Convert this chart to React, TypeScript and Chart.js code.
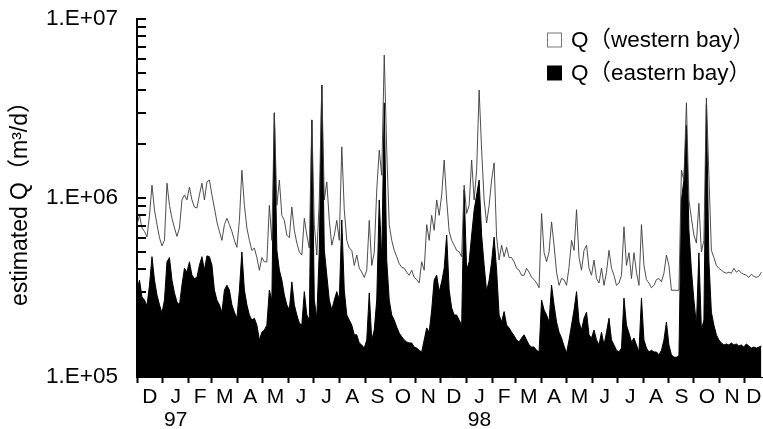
import React, { useEffect, useRef } from 'react';
import { Chart, registerables } from 'chart.js';

Chart.register(...registerables);

// One sample every 3 days, day 0 = 1 Dec 1996. Values in 1000 m3/d.
const STEP_DAYS = 3;

const WEST_K = [
  710, 800, 680, 650, 605, 800, 1180, 860, 710, 600,
  540, 580, 1210, 910, 770, 680, 610, 680, 975, 1040,
  975, 1150, 975, 890, 880, 1040, 1210, 975, 1230, 1260,
  1040, 880, 735, 650, 580, 710, 770, 710, 650, 580,
  530, 750, 1430, 910, 680, 580, 510, 525, 465, 395,
  465, 440, 440, 910, 580, 2990, 910, 1260, 800, 750,
  620, 600, 890, 660, 560, 500, 480, 770, 620, 525,
  2730, 710, 480, 975, 4280, 975, 1230, 750, 545, 620,
  750, 580, 1930, 860, 580, 525, 510, 420, 480, 405,
  385, 360, 395, 750, 420, 495, 1110, 1850, 1340, 6290,
  1850, 710, 580, 510, 470, 430, 410, 405, 385, 370,
  395, 360, 350, 335, 440, 395, 710, 580, 800, 660,
  975, 800, 1040, 1630, 975, 650, 580, 545, 510, 500,
  470, 1180, 820, 910, 1630, 975, 1430, 4010, 1850, 975,
  725, 910, 1260, 1570, 605, 450, 545, 470, 530, 465,
  465, 440, 405, 395, 370, 370, 405, 385, 360, 350,
  335, 315, 820, 495, 440, 500, 735, 545, 385, 325,
  355, 350, 325, 410, 580, 510, 860, 465, 395, 510,
  545, 405, 370, 450, 355, 335, 405, 325, 385, 510,
  405, 370, 325, 335, 370, 690, 420, 495, 355, 495,
  385, 325, 710, 420, 350, 335, 315, 325, 350, 355,
  340, 380, 480, 420, 305, 305, 305, 305, 1430, 1260,
  3400, 975, 770, 620, 560, 935, 500, 580, 3620, 1340,
  510, 465, 420, 405, 395, 385, 380, 385, 380, 405,
  385, 395, 380, 375, 370, 360, 375, 365, 360, 365,
  385,
];

const EAST_K = [
  306, 348, 280, 269, 250, 326, 470, 348, 287, 253,
  228, 269, 440, 465, 348, 295, 262, 253, 326, 405,
  385, 440, 371, 355, 360, 422, 470, 396, 475, 470,
  422, 306, 269, 253, 230, 306, 326, 306, 253, 230,
  213, 306, 500, 306, 253, 222, 208, 213, 195, 161,
  178, 183, 195, 306, 269, 2990, 512, 396, 348, 287,
  253, 237, 340, 253, 222, 200, 195, 300, 222, 208,
  2730, 269, 213, 512, 4280, 512, 371, 269, 237, 269,
  300, 269, 754, 306, 222, 208, 195, 172, 172, 155,
  151, 145, 161, 295, 161, 183, 269, 975, 450, 3400,
  450, 269, 222, 208, 190, 176, 168, 161, 157, 155,
  155, 147, 145, 141, 138, 161, 188, 178, 237, 348,
  371, 300, 340, 405, 621, 306, 243, 222, 222, 208,
  195, 1110, 396, 440, 621, 857, 1040, 1260, 621, 422,
  300, 348, 440, 605, 396, 222, 203, 232, 195, 188,
  178, 170, 161, 157, 165, 172, 161, 151, 147, 147,
  141, 138, 269, 237, 222, 203, 326, 253, 203, 178,
  165, 149, 136, 161, 195, 237, 300, 203, 183, 213,
  230, 172, 165, 183, 161, 151, 178, 151, 178, 213,
  161, 151, 141, 138, 145, 276, 195, 176, 157, 165,
  151, 138, 276, 161, 145, 138, 141, 138, 138, 133,
  141, 161, 203, 151, 133, 129, 129, 131, 975, 1260,
  2550, 663, 396, 269, 195, 494, 183, 208, 3320, 450,
  230, 195, 172, 161, 155, 151, 153, 151, 155, 151,
  153, 149, 151, 147, 153, 149, 145, 147, 145, 147,
  149,
];

const MONTH_LETTERS = ['D', 'J', 'F', 'M', 'A', 'M', 'J', 'J', 'A', 'S', 'O', 'N',
  'D', 'J', 'F', 'M', 'A', 'M', 'J', 'J', 'A', 'S', 'O', 'N', 'D'];
const MONTH_START_DAYS = [0, 31, 62, 90, 121, 151, 182, 212, 243, 274, 304, 335,
  365, 396, 427, 455, 486, 516, 547, 577, 608, 639, 669, 700, 730];
const YEAR_LABELS: Record<number, string> = { 1: '97', 13: '98' };
const LAST_DAY = 752;
const Y_MIN = 1e5;
const Y_MAX = 1e7;
const Y_TICKS = [1e5, 1e6, 1e7];
const SERIES_NAMES = ['Q（western bay）', 'Q（eastern bay）'];
const Y_TITLE = 'estimated Q（m³/d）';

const FONT_FAMILY = '"Liberation Sans", Arial, "Noto Sans CJK JP", sans-serif';

export default function App() {
  const ref = useRef<HTMLCanvasElement | null>(null);

  useEffect(() => {
    const canvas = ref.current;
    if (!canvas) return;

    const west = WEST_K.map((v, i) => ({ x: i * STEP_DAYS, y: v * 1000 }));
    const east = EAST_K.map((v, i) => ({ x: i * STEP_DAYS, y: v * 1000 }));

    const boundaries = new Set<number>(MONTH_START_DAYS);
    const labelMap = new Map<number, string[]>();
    MONTH_START_DAYS.forEach((d, i) => {
      const next = i + 1 < MONTH_START_DAYS.length ? MONTH_START_DAYS[i + 1] : LAST_DAY;
      const mid = (d + next) / 2;
      labelMap.set(mid, YEAR_LABELS[i] ? [MONTH_LETTERS[i], YEAR_LABELS[i]] : [MONTH_LETTERS[i]]);
    });
    const xTickValues = [...MONTH_START_DAYS, ...Array.from(labelMap.keys())].sort((a, b) => a - b);

    const minorTicks = {
      id: 'minorTicks',
      afterDatasetsDraw(chart: any) {
        const ys = chart.scales.y;
        const c = chart.ctx;
        const left = chart.chartArea.left;
        c.save();
        c.strokeStyle = '#000';
        c.lineWidth = 2;
        for (let e = 5; e <= 7; e++) {
          for (let m = 1; m <= 9; m++) {
            const v = m * Math.pow(10, e);
            if (v < Y_MIN || v > Y_MAX) continue;
            const py = Math.round(ys.getPixelForValue(v));
            c.beginPath();
            c.moveTo(left, py);
            c.lineTo(left + 9, py);
            c.stroke();
          }
        }
        c.restore();
      },
    };

    const boxLegend = {
      id: 'boxLegend',
      afterDraw(chart: any) {
        const c = chart.ctx;
        const area = chart.chartArea;
        const bx = area.right - 216;
        const rows = [area.top + 21, area.top + 54];
        c.save();
        c.font = `22.5px ${FONT_FAMILY}`;
        c.textBaseline = 'middle';
        c.textAlign = 'left';
        chart.data.datasets.forEach((ds: any, i: number) => {
          const cy = rows[i];
          if (i === 0) {
            c.fillStyle = '#fff';
            c.fillRect(bx, cy - 7.5, 15, 15);
            c.strokeStyle = '#777';
            c.lineWidth = 1;
            c.strokeRect(bx + 0.5, cy - 7, 14, 14);
          } else {
            c.fillStyle = '#000';
            c.fillRect(bx, cy - 7.5, 15, 15);
          }
          c.fillStyle = '#000';
          c.fillText(ds.label, bx + 24, cy + 1);
        });
        c.restore();
      },
    };

    const chart = new Chart(canvas, {
      type: 'line',
      data: {
        datasets: [
          {
            label: SERIES_NAMES[0],
            data: west,
            borderColor: '#3a3a3a',
            borderWidth: 0.9,
            backgroundColor: '#fff',
            fill: false,
            pointRadius: 0,
            tension: 0,
          },
          {
            label: SERIES_NAMES[1],
            data: east,
            borderColor: '#000',
            borderWidth: 1,
            backgroundColor: '#000',
            fill: 'start',
            pointRadius: 0,
            tension: 0,
          },
        ],
      },
      options: {
        animation: false,
        responsive: false,
        devicePixelRatio: 1,
        layout: { padding: { left: 0, right: 0, top: 19, bottom: 0 } },
        plugins: {
          legend: { display: false },
          tooltip: { enabled: false },
        },
        scales: {
          x: {
            type: 'linear',
            min: 0,
            max: LAST_DAY,
            afterBuildTicks: (scale: any) => {
              scale.ticks = xTickValues.map((v) => ({ value: v }));
            },
            afterFit: (scale: any) => {
              scale.height = 52;
              scale.paddingLeft = 0;
              scale.paddingRight = 0;
            },
            grid: {
              drawOnChartArea: false,
              drawTicks: true,
              tickLength: 6,
              tickWidth: 2,
              color: (c: any) => (c.tick && boundaries.has(c.tick.value) ? '#000' : 'rgba(0,0,0,0)'),
            },
            border: { display: true, color: '#000', width: 1 },
            ticks: {
              autoSkip: false,
              maxRotation: 0,
              minRotation: 0,
              padding: 3,
              color: '#000',
              font: { family: FONT_FAMILY, size: 21, lineHeight: 1.07 },
              callback: (value: any) => labelMap.get(Number(value)) ?? '',
            },
          },
          y: {
            type: 'logarithmic',
            min: Y_MIN,
            max: Y_MAX,
            afterBuildTicks: (scale: any) => {
              scale.ticks = Y_TICKS.map((v) => ({ value: v, major: true }));
            },
            afterFit: (scale: any) => {
              scale.width = 137;
              scale.paddingTop = 0;
              scale.paddingBottom = 0;
            },
            grid: { display: true, drawOnChartArea: false, drawTicks: false },
            border: { display: true, color: '#000', width: 2 },
            ticks: {
              padding: 19,
              color: '#000',
              font: { family: FONT_FAMILY, size: 22.5 },
              callback: (value: any) => {
                const e = Math.round(Math.log10(Number(value)));
                return '1.E+' + String(e).padStart(2, '0');
              },
            },
            title: {
              display: true,
              text: Y_TITLE,
              color: '#000',
              font: { family: FONT_FAMILY, size: 23, lineHeight: 1.2 },
              padding: { top: 7, bottom: 0 },
            },
          },
        },
      },
      plugins: [minorTicks, boxLegend],
    });

    return () => chart.destroy();
  }, []);

  return (
    <div style={{ position: 'absolute', left: 0, top: 0, width: 763, height: 429, background: '#fff' }}>
      <canvas ref={ref} width={763} height={429} style={{ display: 'block' }} />
    </div>
  );
}
